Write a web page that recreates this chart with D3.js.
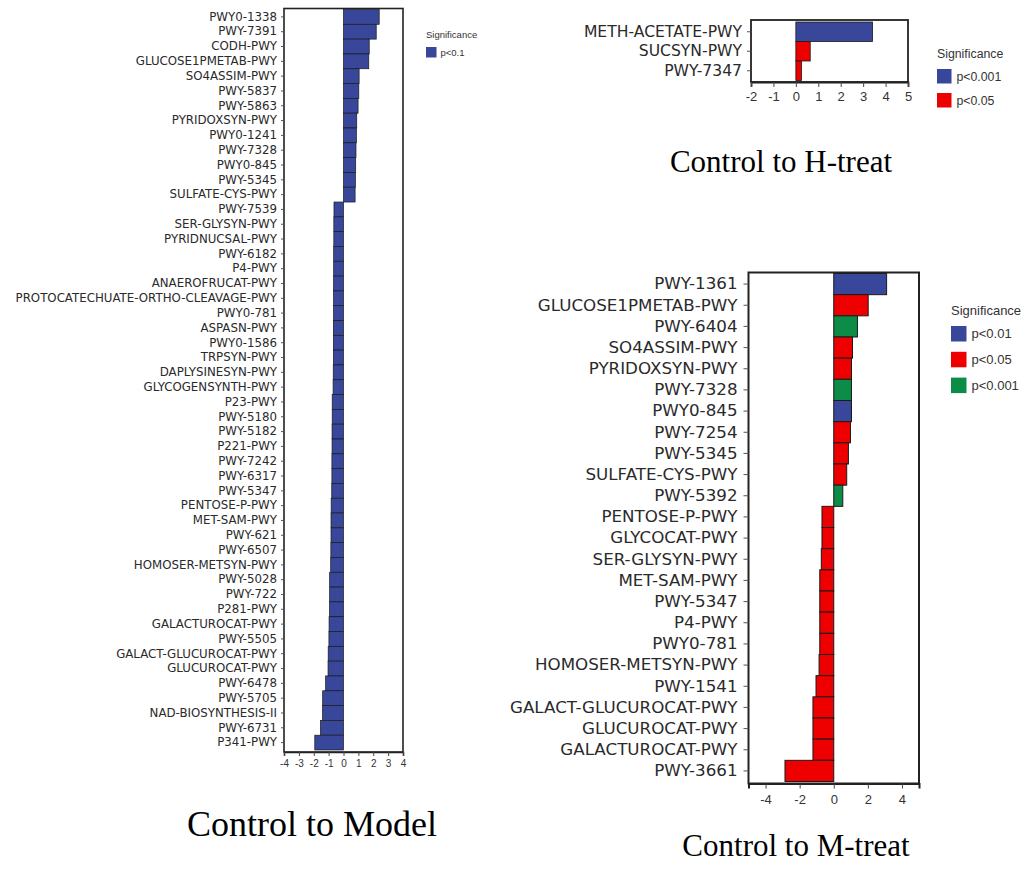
<!DOCTYPE html>
<html>
<head>
<meta charset="utf-8">
<script src="https://cdn.jsdelivr.net/npm/d3@7"></script>
<style>
  body { margin: 0; background: #fff; }
  svg { display: block; }
</style>
</head>
<body>
<div id="chart"></div>
<script>
// Control to Model
const modelNames = ["PWY0-1338", "PWY-7391", "CODH-PWY", "GLUCOSE1PMETAB-PWY", "SO4ASSIM-PWY",
  "PWY-5837", "PWY-5863", "PYRIDOXSYN-PWY", "PWY0-1241", "PWY-7328", "PWY0-845", "PWY-5345",
  "SULFATE-CYS-PWY", "PWY-7539", "SER-GLYSYN-PWY", "PYRIDNUCSAL-PWY", "PWY-6182", "P4-PWY",
  "ANAEROFRUCAT-PWY", "PROTOCATECHUATE-ORTHO-CLEAVAGE-PWY", "PWY0-781", "ASPASN-PWY", "PWY0-1586",
  "TRPSYN-PWY", "DAPLYSINESYN-PWY", "GLYCOGENSYNTH-PWY", "P23-PWY", "PWY-5180", "PWY-5182",
  "P221-PWY", "PWY-7242", "PWY-6317", "PWY-5347", "PENTOSE-P-PWY", "MET-SAM-PWY", "PWY-621",
  "PWY-6507", "HOMOSER-METSYN-PWY", "PWY-5028", "PWY-722", "P281-PWY", "GALACTUROCAT-PWY",
  "PWY-5505", "GALACT-GLUCUROCAT-PWY", "GLUCUROCAT-PWY", "PWY-6478", "PWY-5705",
  "NAD-BIOSYNTHESIS-II", "PWY-6731", "P341-PWY"]
const modelValues = [2.4, 2.2, 1.73, 1.7, 1.05, 1.03, 0.98, 0.89, 0.87, 0.84, 0.82, 0.8, 0.78,
  -0.64, -0.65, -0.65, -0.66, -0.66, -0.67, -0.67, -0.67, -0.68, -0.68, -0.68, -0.69, -0.7,
  -0.76, -0.76, -0.77, -0.77, -0.78, -0.78, -0.79, -0.83, -0.84, -0.84, -0.85, -0.86,
  -0.93, -0.93, -0.94, -0.97, -0.98, -1.03, -1.04, -1.2, -1.4, -1.41, -1.55, -1.93]
const modelSig = modelNames.map(() => "p<0.1")
const modelTicks = [-4, -3, -2, -1, 0, 1, 2, 3, 4]

// Control to H-treat
const htreatNames = ["METH-ACETATE-PWY", "SUCSYN-PWY", "PWY-7347"]
const htreatValues = [3.42, 0.64, 0.25]
const htreatSig = ["p<0.001", "p<0.05", "p<0.05"]
const htreatTicks = [-2, -1, 0, 1, 2, 3, 4, 5]

// Control to M-treat
const mtreatNames = ["PWY-1361", "GLUCOSE1PMETAB-PWY", "PWY-6404", "SO4ASSIM-PWY", "PYRIDOXSYN-PWY",
  "PWY-7328", "PWY0-845", "PWY-7254", "PWY-5345", "SULFATE-CYS-PWY", "PWY-5392", "PENTOSE-P-PWY",
  "GLYCOCAT-PWY", "SER-GLYSYN-PWY", "MET-SAM-PWY", "PWY-5347", "P4-PWY", "PWY0-781",
  "HOMOSER-METSYN-PWY", "PWY-1541", "GALACT-GLUCUROCAT-PWY", "GLUCUROCAT-PWY",
  "GALACTUROCAT-PWY", "PWY-3661"]
const mtreatValues = [3.1, 2.02, 1.39, 1.1, 1.04, 1.04, 1.04, 0.98, 0.86, 0.76, 0.53, -0.69,
  -0.69, -0.73, -0.82, -0.82, -0.82, -0.82, -0.86, -1.04, -1.22, -1.22, -1.22, -2.86]
const mtreatSig = ["p<0.01", "p<0.05", "p<0.001", "p<0.05", "p<0.05", "p<0.001", "p<0.01",
  "p<0.05", "p<0.05", "p<0.05", "p<0.001", "p<0.05", "p<0.05", "p<0.05", "p<0.05", "p<0.05",
  "p<0.05", "p<0.05", "p<0.05", "p<0.05", "p<0.05", "p<0.05", "p<0.05", "p<0.05"]
const mtreatTicks = [-4, -2, 0, 2, 4]

const blue = "#38479a", red = "#ee0000", green = "#0c8c47"

let svg = d3.select('#chart').append('svg')
    .attr('width', 1027)
    .attr('height', 870)

function drawPanel(p) {
  let data = p.names.map((n, i) => ({name: n, value: p.values[i], sig: p.sig[i]}))

  let x = d3.scaleLinear().domain(p.domain).range([p.left, p.right])
  let y = d3.scaleBand().domain(p.names).range([p.barTop, p.barBottom]).padding(0)

  let g = svg.append('g')

  g.selectAll('rect.bar')
    .data(data)
    .enter()
    .append('rect')
    .attr('class', 'bar')
    .attr('x', d => x(Math.min(0, d.value)))
    .attr('y', d => y(d.name))
    .attr('width', d => Math.abs(x(d.value) - x(0)))
    .attr('height', y.bandwidth())
    .attr('fill', d => p.color(d.sig))
    .attr('stroke', '#1a1a1a')
    .attr('stroke-width', p.barStroke)

  // frame
  g.append('rect')
    .attr('x', p.left)
    .attr('y', p.top)
    .attr('width', p.right - p.left)
    .attr('height', p.bottom - p.top)
    .attr('fill', 'none')
    .attr('stroke', '#222')
    .attr('stroke-width', p.frameStroke)

  let axisX = d3.axisBottom(x).tickValues(p.ticks).tickSize(p.tick).tickSizeOuter(p.tick)
    .tickPadding(p.tickPad).tickFormat(d3.format('d'))
  let gx = g.append('g')
    .attr('transform', `translate(0,${p.bottom})`)
    .call(axisX)
  gx.select('.domain').attr('stroke', '#222').attr('stroke-width', p.frameStroke)
  gx.selectAll('.tick line').attr('stroke', '#444')
  gx.selectAll('text')
    .attr('font-family', 'Liberation Sans, Arial, sans-serif')
    .attr('font-size', p.tickFont)
    .attr('fill', '#333')
    .text(d => d < 0 ? '-' + Math.abs(d) : d)

  let axisY = d3.axisLeft(y).tickSize(p.ytick).tickSizeOuter(0).tickPadding(p.yPad)
  let gy = g.append('g')
    .attr('transform', `translate(${p.left},0)`)
    .call(axisY)
  gy.select('.domain').remove()
  gy.selectAll('.tick line').attr('stroke', '#555')
  gy.selectAll('text')
    .attr('font-family', 'DejaVu Sans, Verdana, sans-serif')
    .attr('font-size', p.labelFont)
    .attr('fill', '#2a2a2a')

  // legend
  let lg = g.append('g').attr('transform', `translate(${p.legend.x},${p.legend.y})`)
  lg.append('text')
    .attr('x', 0).attr('y', 0)
    .attr('font-family', 'Liberation Sans, Arial, sans-serif')
    .attr('font-size', p.legend.font)
    .attr('fill', '#333')
    .text('Significance')
  p.legend.items.forEach((s, i) => {
    lg.append('rect')
      .attr('x', 0)
      .attr('y', p.legend.first + i * p.legend.step)
      .attr('width', p.legend.box)
      .attr('height', p.legend.box)
      .attr('fill', p.color(s))
    lg.append('text')
      .attr('x', p.legend.box + p.legend.gap)
      .attr('y', p.legend.first + i * p.legend.step + p.legend.box / 2)
      .attr('dy', '0.35em')
      .attr('font-family', 'Liberation Sans, Arial, sans-serif')
      .attr('font-size', p.legend.font)
      .attr('fill', '#333')
      .text(s)
  })

  // panel title
  svg.append('text')
    .attr('x', p.title.x)
    .attr('y', p.title.y)
    .attr('text-anchor', 'middle')
    .attr('font-family', 'Liberation Serif, Times New Roman, serif')
    .attr('font-size', p.title.size)
    .attr('fill', '#000')
    .text(p.title.text)
}

drawPanel({
  names: modelNames, values: modelValues, sig: modelSig, ticks: modelTicks,
  domain: [-4, 4], left: 284, right: 403, top: 8.5, bottom: 752,
  barTop: 9.5, barBottom: 750, barStroke: 0.7, frameStroke: 1.6,
  tick: 4, tickPad: 4, tickFont: 10, ytick: 3, yPad: 4, labelFont: 11.8,
  color: () => blue,
  legend: {x: 426, y: 38, font: 9.5, items: ["p<0.1"], first: 9, step: 20, box: 10.5, gap: 4},
  title: {x: 312, y: 836, size: 36, text: "Control to Model"}
})

drawPanel({
  names: htreatNames, values: htreatValues, sig: htreatSig, ticks: htreatTicks,
  domain: [-2, 5], left: 751, right: 908, top: 20, bottom: 82,
  barTop: 22, barBottom: 80.5, barStroke: 0.8, frameStroke: 1.8,
  tick: 5, tickPad: 5, tickFont: 13, ytick: 4, yPad: 5, labelFont: 15.6,
  color: s => s === "p<0.001" ? blue : red,
  legend: {x: 937, y: 58, font: 12.3, items: ["p<0.001", "p<0.05"], first: 11, step: 24, box: 14.5, gap: 5},
  title: {x: 781, y: 172, size: 31, text: "Control to H-treat"}
})

drawPanel({
  names: mtreatNames, values: mtreatValues, sig: mtreatSig, ticks: mtreatTicks,
  domain: [-5, 5], left: 748.5, right: 919, top: 272.5, bottom: 783.5,
  barTop: 273.5, barBottom: 781.5, barStroke: 1, frameStroke: 2,
  tick: 5, tickPad: 6, tickFont: 13, ytick: 5, yPad: 6, labelFont: 16.7,
  color: s => s === "p<0.01" ? blue : (s === "p<0.05" ? red : green),
  legend: {x: 951, y: 315, font: 13, items: ["p<0.01", "p<0.05", "p<0.001"], first: 11, step: 25.8, box: 15.5, gap: 5},
  title: {x: 796, y: 856, size: 31, text: "Control to M-treat"}
})
</script>
</body>
</html>
